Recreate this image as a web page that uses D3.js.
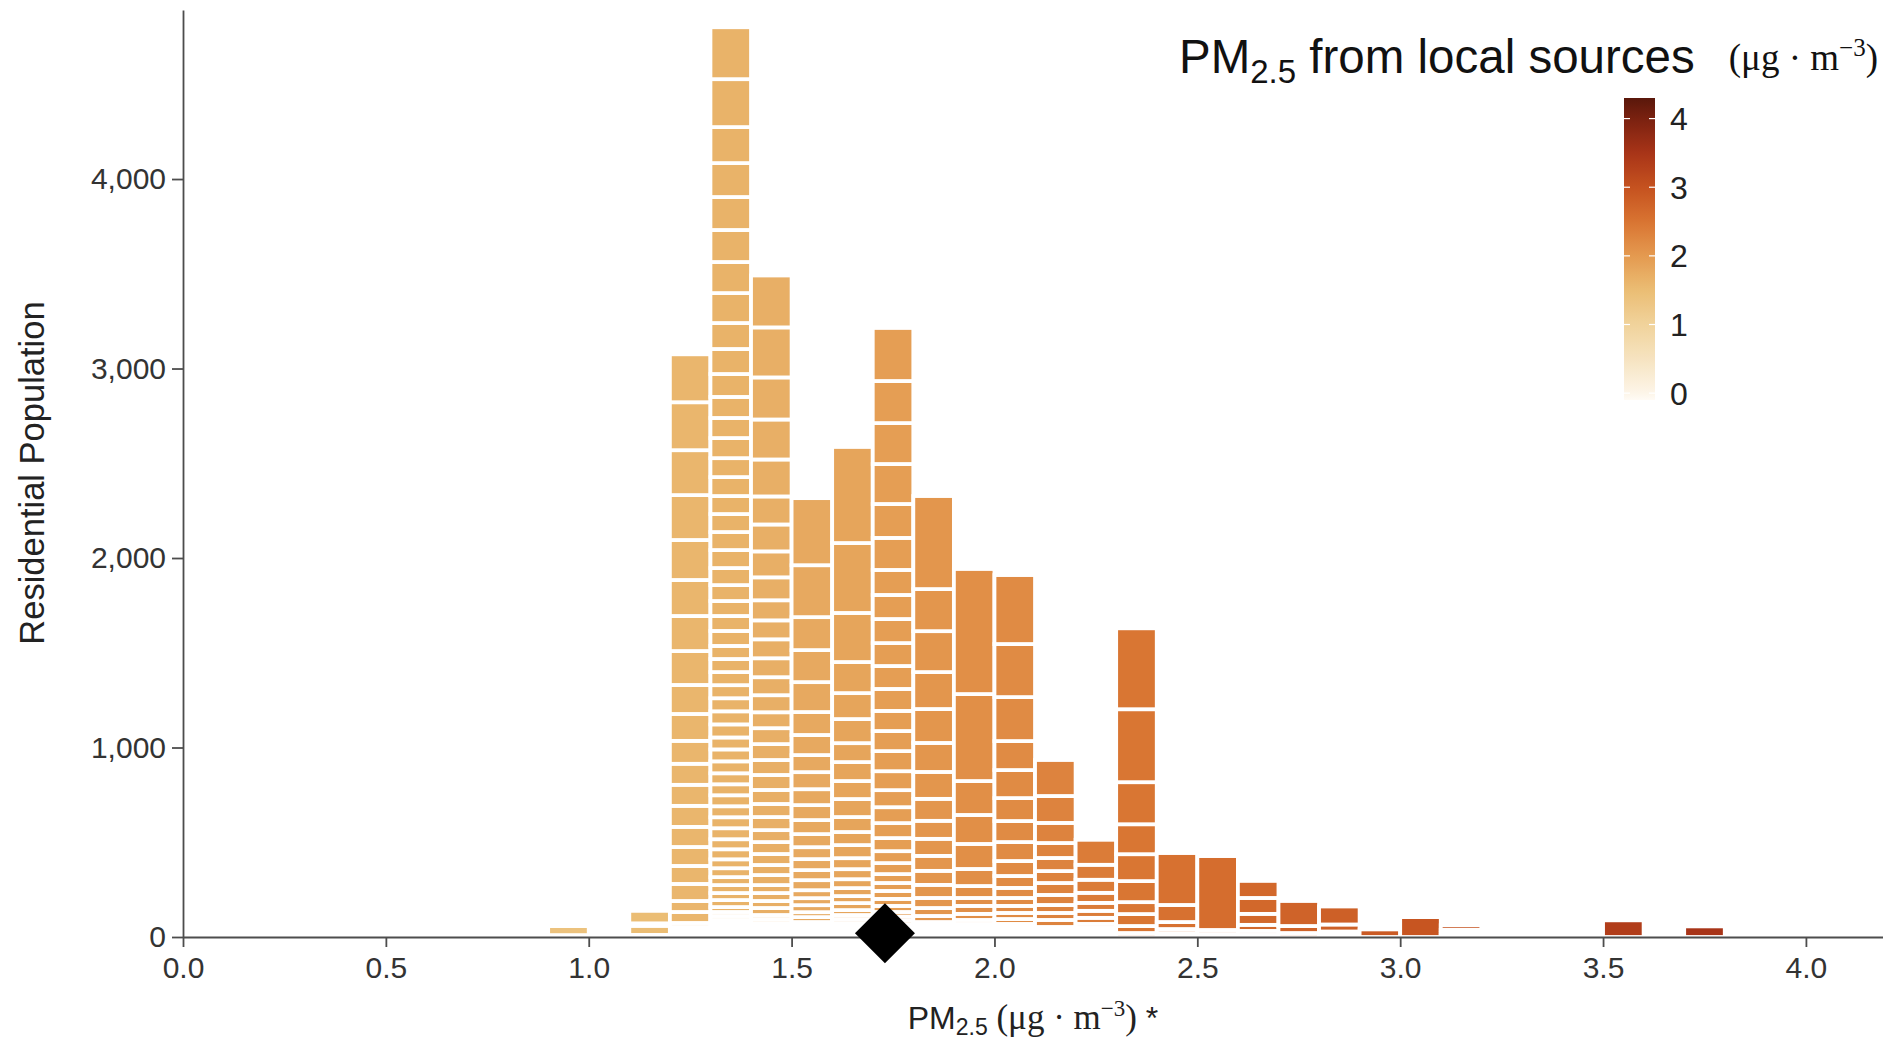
<!DOCTYPE html>
<html><head><meta charset="utf-8">
<script src="https://cdn.jsdelivr.net/npm/d3@7"></script>
<style>html,body{margin:0;padding:0;background:#fff;} svg{display:block;}</style>
</head><body>
<svg id="chart" width="1883" height="1040"></svg>
<script>
// ---------- DATA ----------
const binCenters = [0.95, 1.15, 1.25, 1.35, 1.45, 1.55, 1.65, 1.75, 1.85, 1.95, 2.05, 2.15, 2.25, 2.35, 2.45, 2.55, 2.65, 2.75, 2.85, 2.95, 3.05, 3.15, 3.55, 3.75];
// PM2.5 from local sources (fill value) for each bin
const localPM = [1.38, 1.5, 1.6, 1.65, 1.7, 1.78, 1.85, 1.95, 2.05, 2.15, 2.2, 2.3, 2.4, 2.48, 2.55, 2.6, 2.68, 2.75, 2.8, 2.88, 2.95, 3.0, 3.35, 3.5];
// residential population of each unit stacked in a bin, listed top to bottom
const pop_0_95 = [16, 48, 10];
const pop_1_15 = [66, 13, 48, 11];
const pop_1_25 = [253, 253, 237, 237, 211, 190, 185, 179, 153, 142, 121, 111, 111, 111, 106, 100, 95, 90, 58, 58, 21, 18, 16, 11, 8];
const pop_1_35 = [274, 253, 190, 179, 174, 169, 164, 158, 137, 132, 121, 111, 106, 106, 100, 100, 95, 95, 95, 95, 90, 84, 79, 79, 79, 69, 69, 69, 69, 69, 69, 69, 63, 63, 63, 58, 58, 58, 58, 58, 58, 53, 53, 47, 47, 42, 42, 37, 37, 26, 21, 21, 18, 16, 16, 13, 11, 11, 5];
const pop_1_45 = [274, 264, 222, 211, 195, 148, 142, 137, 121, 106, 100, 100, 100, 95, 90, 84, 84, 84, 79, 79, 74, 69, 69, 63, 63, 58, 53, 53, 42, 42, 37, 37, 21, 21, 18, 16, 16, 13, 11];
const pop_1_55 = [354, 274, 174, 169, 158, 121, 106, 90, 90, 84, 79, 74, 69, 63, 58, 53, 53, 42, 37, 37, 26, 26, 18, 16, 16, 13, 11, 5];
const pop_1_65 = [507, 369, 259, 164, 137, 127, 100, 100, 95, 95, 79, 69, 69, 58, 53, 47, 42, 37, 37, 26, 21, 21, 18, 16, 16, 13, 11];
const pop_1_75 = [280, 222, 216, 211, 179, 169, 132, 127, 127, 121, 121, 116, 106, 106, 106, 100, 90, 84, 79, 69, 63, 58, 47, 42, 42, 37, 32, 24, 21, 21, 18, 16, 16, 11, 5];
const pop_1_85 = [491, 222, 216, 195, 179, 153, 142, 116, 95, 90, 79, 74, 69, 53, 42, 32, 18, 16, 16, 13, 11, 5];
const pop_1_95 = [660, 459, 179, 153, 132, 90, 63, 42, 42, 32, 21, 18, 16, 13, 11, 11];
const pop_2_05 = [364, 280, 232, 153, 148, 121, 111, 100, 79, 63, 53, 42, 37, 32, 26, 18, 16, 13, 11, 11];
const pop_2_15 = [190, 142, 106, 79, 69, 63, 63, 53, 42, 37, 37, 18, 16, 11, 8];
const pop_2_25 = [132, 79, 69, 53, 42, 37, 32, 21, 16, 13, 11, 8];
const pop_2_35 = [427, 385, 222, 158, 142, 111, 63, 63, 37, 21];
const pop_2_45 = [274, 90, 37, 21, 16, 5];
const pop_2_55 = [390, 21, 16];
const pop_2_65 = [90, 84, 58, 32, 21, 11];
const pop_2_75 = [132, 37, 21];
const pop_2_85 = [95, 37, 16, 13];
const pop_2_95 = [40];
const pop_3_05 = [105];
const pop_3_15 = [24, 16, 12, 10];
const pop_3_55 = [88];
const pop_3_75 = [56];
const unitPopulations = [pop_0_95, pop_1_15, pop_1_25, pop_1_35, pop_1_45, pop_1_55, pop_1_65, pop_1_75, pop_1_85, pop_1_95, pop_2_05, pop_2_15, pop_2_25, pop_2_35, pop_2_45, pop_2_55, pop_2_65, pop_2_75, pop_2_85, pop_2_95, pop_3_05, pop_3_15, pop_3_55, pop_3_75];

const xTicks = [0, 0.5, 1.0, 1.5, 2.0, 2.5, 3.0, 3.5, 4.0];
const yTicks = [0, 1000, 2000, 3000, 4000];
const legendTicks = [0, 1, 2, 3, 4];
const meanPM = 1.73;
const meanMarkerY = 20;
const binWidth = 0.1;

// colour ramp of the legend
const colorStops = [-0.1, 0, 0.5, 1, 1.5, 2, 2.5, 3, 3.5, 4, 4.3];
const colorPalette = ['#fffbf5', '#fdf5e8', '#f6e3c0', '#f0d39b', '#ebbd74', '#e49a50', '#d97432', '#c5521f', '#a83418', '#7a2110', '#5a170b'];

// ---------- CHART ----------
const svg = d3.select('#chart');
const SANS = 'Liberation Sans, Arial, Helvetica, sans-serif';
const SERIF = 'Liberation Serif, Times New Roman, serif';

const x = d3.scaleLinear().domain([0, 4.19]).range([183, 1883]);
const y = d3.scaleLinear().domain([0, 4892]).range([937, 10]);
const color = d3.scaleLinear().domain(colorStops).range(colorPalette).interpolate(d3.interpolateRgb).clamp(true);

const rects = [];
binCenters.forEach((c, i) => {
  const segs = unitPopulations[i].slice().reverse();
  let cum = 0;
  segs.forEach(v => { rects.push({c: c, y0: cum, y1: cum + v, local: localPM[i]}); cum += v; });
});

svg.append('g').selectAll('rect').data(rects).join('rect')
  .attr('x', d => x(d.c - binWidth / 2))
  .attr('width', d => x(d.c + binWidth / 2) - x(d.c - binWidth / 2))
  .attr('y', d => y(d.y1))
  .attr('height', d => y(d.y0) - y(d.y1))
  .attr('fill', d => color(d.local))
  .attr('stroke', '#fff')
  .attr('stroke-width', 3.8);

// axes
const yAxis = svg.append('g').attr('transform', `translate(${x(0)},0)`)
  .call(d3.axisLeft(y).tickValues(yTicks).tickFormat(d3.format(',')).tickSize(11).tickSizeOuter(0).tickPadding(6));
const xAxis = svg.append('g').attr('transform', `translate(0,${y(0)})`)
  .call(d3.axisBottom(x).tickValues(xTicks).tickFormat(d3.format('.1f')).tickSize(10).tickSizeOuter(0).tickPadding(10));
[yAxis, xAxis].forEach(g => {
  g.attr('font-family', SANS).attr('font-size', 30);
  g.select('.domain').attr('stroke', '#4d4d4d').attr('stroke-width', 1.8);
  g.selectAll('.tick line').attr('stroke', '#4d4d4d').attr('stroke-width', 1.8);
  g.selectAll('.tick text').attr('fill', '#333');
});

// mean marker
svg.append('path')
  .attr('d', d3.symbol(d3.symbolSquare, 1800)())
  .attr('transform', `translate(${x(meanPM)},${y(meanMarkerY)}) rotate(45)`)
  .attr('fill', '#000');

// axis titles
svg.append('text')
  .attr('transform', 'translate(44,473) rotate(-90)')
  .attr('text-anchor', 'middle').attr('font-family', SANS).attr('font-size', 34.5).attr('fill', '#222')
  .text('Residential Population');

const xt = svg.append('text').attr('x', 1033).attr('y', 1029).attr('text-anchor', 'middle')
  .attr('font-family', SANS).attr('font-size', 32).attr('fill', '#222');
xt.append('tspan').text('PM');
xt.append('tspan').attr('font-size', 23).attr('dy', 6).text('2.5');
xt.append('tspan').attr('dy', -6).attr('font-family', SERIF).attr('font-size', 35).text(' (μg · m');
xt.append('tspan').attr('font-family', SERIF).attr('font-size', 23).attr('dy', -13).text('−3');
xt.append('tspan').attr('font-family', SERIF).attr('font-size', 35).attr('dy', 13).text(')');
xt.append('tspan').text(' *');

// legend
const title = svg.append('text').attr('x', 1179).attr('y', 73)
  .attr('font-family', SANS).attr('font-size', 47.5).attr('fill', '#111');
title.append('tspan').text('PM');
title.append('tspan').attr('font-size', 33).attr('dy', 10).text('2.5');
title.append('tspan').attr('dy', -10).text(' from local sources');

const units = svg.append('text').attr('x', 1878).attr('y', 70).attr('text-anchor', 'end')
  .attr('font-family', SERIF).attr('font-size', 37).attr('fill', '#111');
units.append('tspan').text('(μg · m');
units.append('tspan').attr('font-size', 25).attr('dy', -14).text('−3');
units.append('tspan').attr('dy', 14).text(')');

const cy = d3.scaleLinear().domain([-0.1, 4.3]).range([400, 98]);
const defs = svg.append('defs');
const grad = defs.append('linearGradient').attr('id', 'cbar').attr('x1', 0).attr('y1', 1).attr('x2', 0).attr('y2', 0);
d3.range(0, 1.0001, 0.02).forEach(t => {
  const v = -0.1 + t * 4.4;
  grad.append('stop').attr('offset', t).attr('stop-color', color(v));
});
const cbX = 1624, cbW = 31;
svg.append('rect').attr('x', cbX).attr('y', cy(4.3)).attr('width', cbW).attr('height', cy(-0.1) - cy(4.3))
  .attr('fill', 'url(#cbar)');
const lg = svg.append('g');
legendTicks.forEach(t => {
  lg.append('line').attr('x1', cbX).attr('x2', cbX + 6).attr('y1', cy(t)).attr('y2', cy(t)).attr('stroke', '#fff').attr('stroke-width', 1.2);
  lg.append('line').attr('x1', cbX + cbW - 6).attr('x2', cbX + cbW).attr('y1', cy(t)).attr('y2', cy(t)).attr('stroke', '#fff').attr('stroke-width', 1.2);
  lg.append('text').attr('x', 1670).attr('y', cy(t)).attr('dy', '0.36em')
    .attr('font-family', SANS).attr('font-size', 32).attr('fill', '#222').text(t);
});
</script>
</body></html>
